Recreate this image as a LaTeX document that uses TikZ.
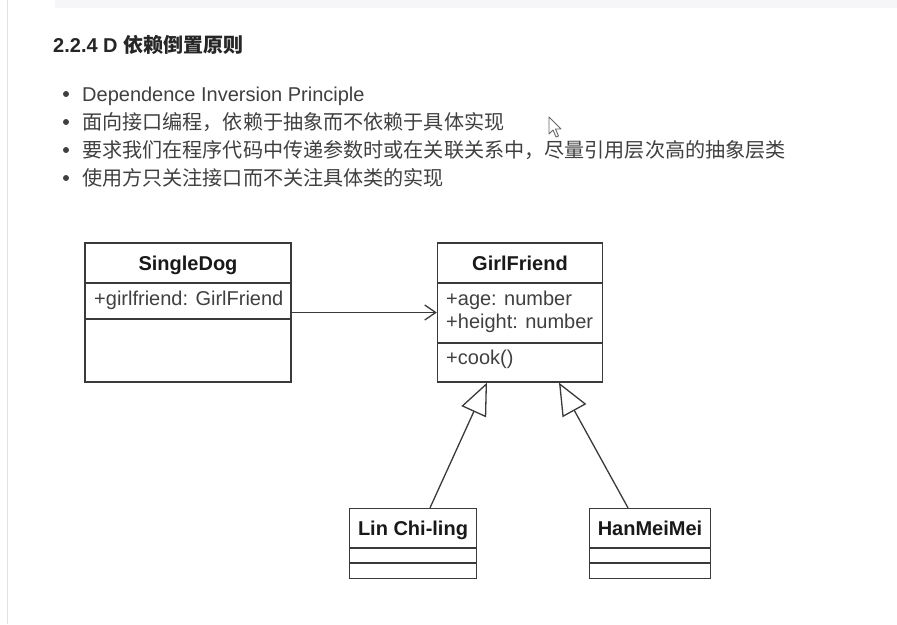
\documentclass[tikz,border=0pt]{standalone}
\usepackage{fontspec}
\setmainfont{Liberation Sans}
\newfontfamily\cjk{Noto Sans CJK SC}
\usetikzlibrary{arrows.meta}
\definecolor{linec}{HTML}{3A3A3A}
\definecolor{txtc}{HTML}{404040}
\definecolor{titlec}{HTML}{262626}
\definecolor{barc}{HTML}{F6F5F8}
\definecolor{edgec}{HTML}{E2E2E2}
\tikzset{
  classbox/.style={draw=linec, line width=1.3pt, fill=white, inner sep=0pt},
  divider/.style={draw=linec, line width=1.3pt},
  cname/.style={font=\fontsize{20}{24}\selectfont\bfseries, text=black!90, inner sep=0pt, anchor=base},
  attr/.style={font=\fontsize{20}{24}\selectfont, text=txtc, inner sep=0pt, anchor=base west},
  bullettxt/.style={font=\fontsize{20}{24}\selectfont, text=txtc, inner sep=0pt, anchor=base west},
  cjktxt/.style={font=\cjk\fontsize{20.1}{24}\selectfont, text=txtc, inner sep=0pt, anchor=base west},
  bulletdot/.style={circle, fill=txtc, inner sep=0pt, minimum size=6pt},
  assoc/.style={draw=linec, line width=1.3pt, -{Straight Barb[length=11pt,width=15pt,line width=1.3pt]}},
  general/.style={draw=linec, line width=1.3pt, -{Triangle[open,length=32pt,width=27pt,line width=1.3pt,fill=white]}},
}
\begin{document}
\begin{tikzpicture}[x=1pt,y=-1pt]
\useasboundingbox (0,0) rectangle (897,624);
\fill[white] (0,0) rectangle (897,624);
% screen decoration
\fill[barc] (55,0) rectangle (897,8);
\draw[edgec, line width=1pt] (7,0) -- (7,624);

% title
\node[anchor=base west, inner sep=0pt, text=titlec, font=\fontsize{20}{24}\selectfont\bfseries] (title) at (53,52) {2.2.4 D {\cjk 依赖倒置原则}};

% bullets
\node[bulletdot] (b1) at (66,94) {};
\node[bulletdot] (b2) at (66,122) {};
\node[bulletdot] (b3) at (66,150) {};
\node[bulletdot] (b4) at (66,178) {};
\node[bullettxt] (t1) at (82,101) {Dependence Inversion Principle};
\node[cjktxt] (t2) at (82,129) {面向接口编程，依赖于抽象而不依赖于具体实现};
\node[cjktxt] (t3) at (82,157) {要求我们在程序代码中传递参数时或在关联关系中，尽量引用层次高的抽象层类};
\node[cjktxt] (t4) at (82,185) {使用方只关注接口而不关注具体类的实现};

% mouse cursor
\draw[black!60, line width=0.9pt, fill=white, line join=round]
  (549,117) -- (549,134) -- (553,130) -- (556,137) -- (558.5,136) -- (555.5,129) -- (561,129) -- cycle;

% SingleDog
\node[classbox, minimum width=206pt, minimum height=139pt] (sd) at (188,312.5) {};
\node[cname] (sdn) at (188,270) {SingleDog};
\draw[divider] (sd.west |- 0,283) -- (sd.east |- 0,283);
\draw[divider] (sd.west |- 0,319) -- (sd.east |- 0,319);
\node[attr] (sda) at (94,305) {+girlfriend: GirlFriend};

% GirlFriend
\node[classbox, minimum width=165pt, minimum height=139pt] (gf) at (520,312.5) {};
\node[cname] (gfn) at (520,270) {GirlFriend};
\draw[divider] (gf.west |- 0,283) -- (gf.east |- 0,283);
\draw[divider] (gf.west |- 0,343) -- (gf.east |- 0,343);
\node[attr] (gfa1) at (446,305) {+age: number};
\node[attr] (gfa2) at (446,328) {+height: number};
\node[attr] (gfm) at (446,364) {+cook()};

% Lin Chi-ling
\node[classbox, minimum width=127pt, minimum height=70pt] (lin) at (413,543.5) {};
\node[cname] (linn) at (413,535) {Lin Chi-ling};
\draw[divider] (lin.west |- 0,548) -- (lin.east |- 0,548);
\draw[divider] (lin.west |- 0,563) -- (lin.east |- 0,563);

% HanMeiMei
\node[classbox, minimum width=121pt, minimum height=70pt] (han) at (650,543.5) {};
\node[cname] (hann) at (650,535) {HanMeiMei};
\draw[divider] (han.west |- 0,548) -- (han.east |- 0,548);
\draw[divider] (han.west |- 0,563) -- (han.east |- 0,563);

% connectors
\draw[assoc] (sd.east) -- (gf.west);
\draw[general] ([xshift=17pt]lin.north) -- ([xshift=-33pt]gf.south);
\draw[general] ([xshift=-22pt]han.north) -- ([xshift=39pt]gf.south);
\end{tikzpicture}
\end{document}
